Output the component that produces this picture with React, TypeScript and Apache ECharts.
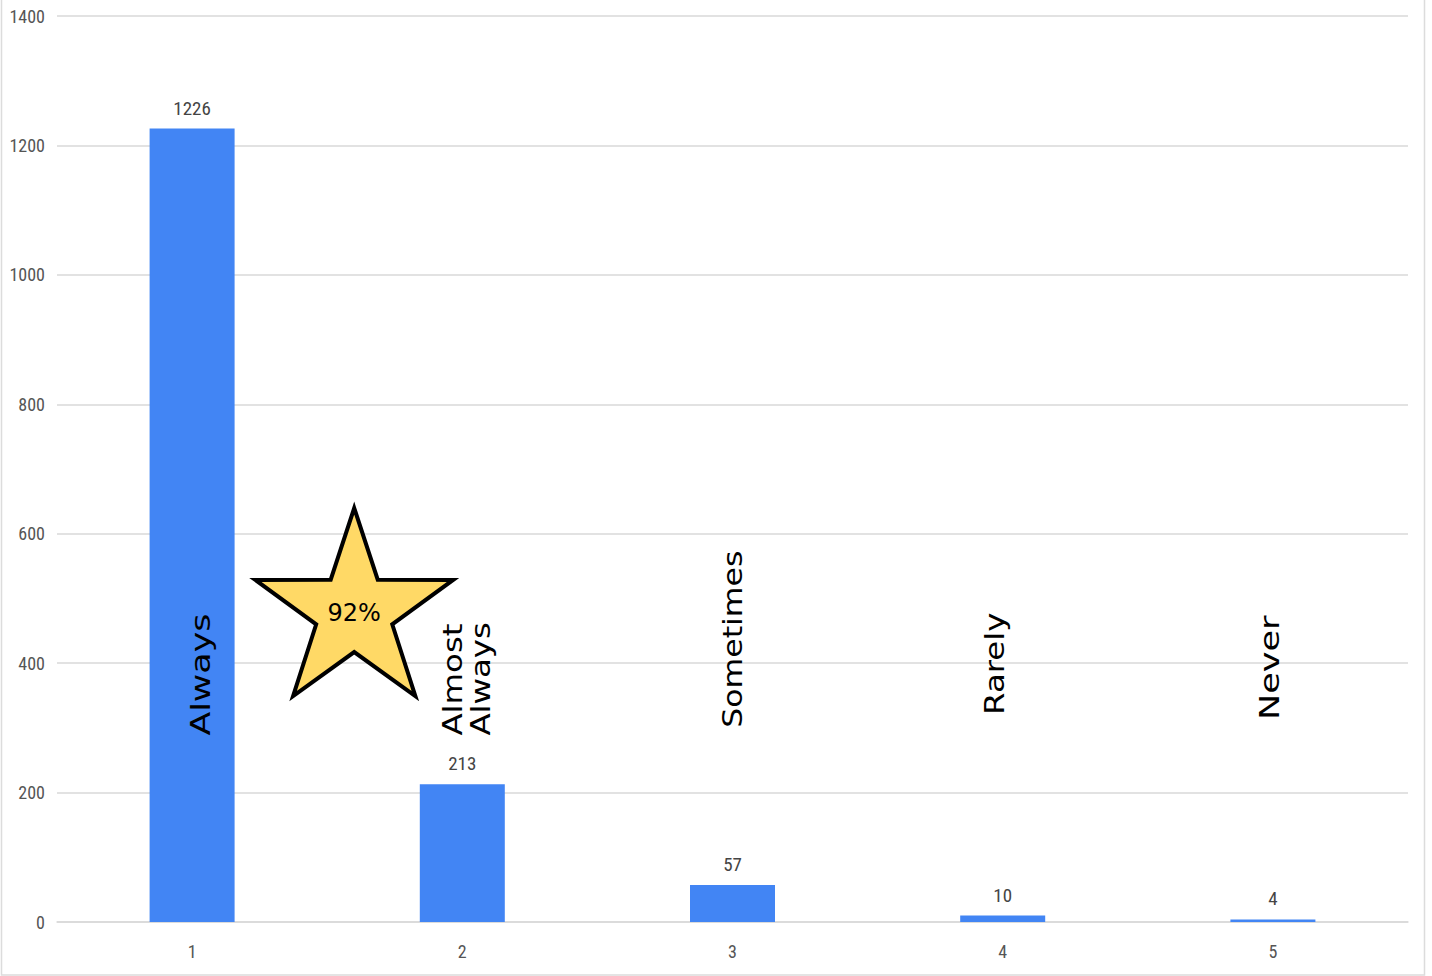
import React, { useEffect, useRef } from 'react';
import * as echarts from 'echarts';

const categories = ['1', '2', '3', '4', '5'];
const responseCounts = [1226, 213, 57, 10, 4];
const responseLabels = ['Always', 'Almost\nAlways', 'Sometimes', 'Rarely', 'Never'];
const yTickMin = 0;
const yTickMax = 1400;
const yTickStep = 200;
const starText = '92%';

// annotation layout (value where each rotated label starts, pixel nudge, stretch)
const labelStartValue = [288, 288, 300, 320, 312];
const labelDx = [8, 4, 0, -8, -3];
const labelStretch = [1.29, 1.2, 1.17, 1.2, 1.3];

const axisFont = "'Liberation Sans Narrow', 'Arial Narrow', 'Roboto Condensed', 'Liberation Sans', sans-serif";
const labelFont = "'DejaVu Sans', 'Noto Sans', sans-serif";

export default function App() {
  const ref = useRef<HTMLDivElement>(null);
  useEffect(() => {
    const chart = echarts.init(ref.current!, null, { renderer: 'svg' });
    chart.setOption({
      animation: false,
      backgroundColor: '#ffffff',
      grid: { left: 57, right: 24, top: 16, bottom: 54 },
      xAxis: {
        type: 'category',
        data: categories,
        axisLine: { show: true, lineStyle: { color: '#d9d9d9', width: 1.5 } },
        axisTick: { show: false },
        axisLabel: { margin: 20, fontSize: 18, color: '#555', fontFamily: axisFont },
      },
      yAxis: {
        type: 'value',
        min: yTickMin,
        max: yTickMax,
        interval: yTickStep,
        axisLine: { show: false },
        axisTick: { show: false },
        splitLine: { lineStyle: { color: '#d9d9d9', width: 1.5 } },
        axisLabel: {
          margin: 12,
          fontSize: 18,
          color: '#555',
          fontFamily: axisFont,
          formatter: (v: number) => String(v),
        },
      },
      series: [
        {
          type: 'bar',
          data: responseCounts,
          barWidth: 85,
          itemStyle: { color: '#4285F4' },
          label: {
            show: true,
            position: 'top',
            distance: 11,
            fontSize: 19,
            color: '#444',
            fontFamily: axisFont,
          },
        },
      ],
    });

    const px = (i: number, v: number) => chart.convertToPixel({ gridIndex: 0 }, [i, v]) as number[];
    const texts = responseLabels.map((t, i) => {
      const p = px(i, labelStartValue[i]);
      return {
        type: 'text',
        x: p[0] + labelDx[i],
        y: p[1],
        z: 100,
        rotation: Math.PI / 2,
        scaleX: labelStretch[i],
        style: {
          text: t,
          fontSize: 27,
          lineHeight: 28,
          fontFamily: labelFont,
          fill: '#000',
          align: 'left',
          verticalAlign: 'middle',
        },
      };
    });

    const c0 = px(0, 0);
    const c1 = px(1, 0);
    const cx = c0[0] + 0.6 * (c1[0] - c0[0]);
    const cy = px(0, 479)[1];
    const R = 104;
    const r = 40;
    const pts: number[][] = [];
    for (let k = 0; k < 10; k++) {
      const a = (k * Math.PI) / 5;
      const rad = k % 2 === 0 ? R : r;
      pts.push([cx + rad * Math.sin(a), cy - rad * Math.cos(a)]);
    }

    chart.setOption({
      graphic: [
        {
          type: 'polyline',
          z: 100,
          shape: { points: [[1.5, 0], [1.5, 975], [1424.5, 975], [1424.5, 0]] },
          style: { stroke: '#dcdcdc', lineWidth: 1.5, fill: 'none' },
          silent: true,
        },
        ...texts,
        {
          type: 'polygon',
          z: 100,
          shape: { points: pts },
          style: { fill: '#FFD966', stroke: '#000', lineWidth: 4, lineJoin: 'miter' },
        },
        {
          type: 'text',
          z: 101,
          x: cx,
          y: cy + 1,
          style: {
            text: starText,
            fontSize: 24,
            fontFamily: labelFont,
            fill: '#000',
            align: 'center',
            verticalAlign: 'middle',
          },
        },
      ],
    });

    return () => chart.dispose();
  }, []);
  return <div ref={ref} style={{ position: 'fixed', left: 0, top: 0, width: 1432, height: 976 }} />;
}
